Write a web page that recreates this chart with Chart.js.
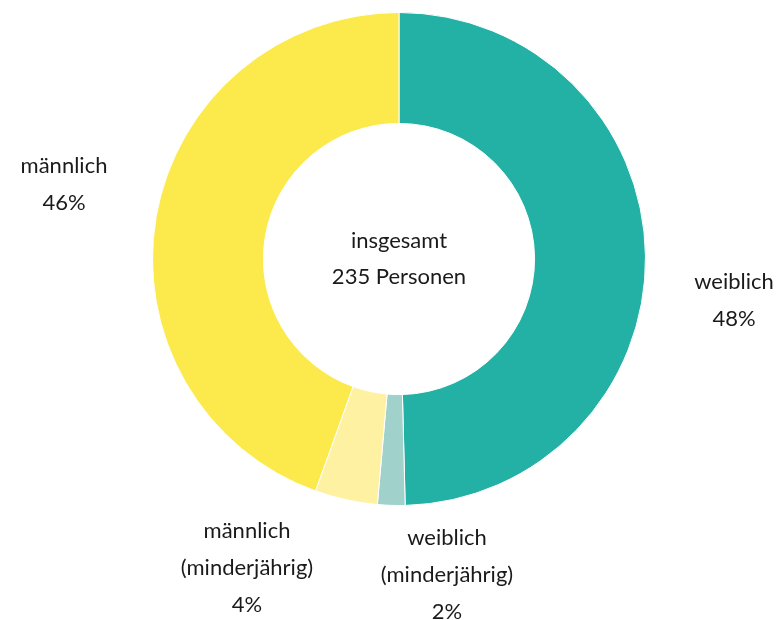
<!DOCTYPE html>
<html>
<head>
<meta charset="utf-8">
<script src="https://cdn.jsdelivr.net/npm/chart.js@4/dist/chart.umd.min.js"></script>
<style>
  html, body { margin: 0; padding: 0; background: #fff; }
  #wrap { width: 780px; height: 620px; }
</style>
</head>
<body>
<div id="wrap"><canvas id="myChart" width="780" height="620"></canvas></div>
<script>
// Geschlecht / Alter, Anteil in % (Winkel aus dem Bild gelesen)
var categories = ["weiblich", "weiblich (minderjährig)", "männlich (minderjährig)", "männlich"];
var shares = [49.6, 1.8, 4.1, 44.5];
var pctLabels = ["48%", "2%", "4%", "46%"];
var labelLines = [["weiblich"], ["weiblich", "(minderjährig)"], ["männlich", "(minderjährig)"], ["männlich"]];
var centerLines = ["insgesamt", "235 Personen"];
var colors = ['#23b0a5', '#a1d1cb', '#fef2a2', '#fcea4c'];

var FONT = "22px Lato, 'Open Sans', sans-serif";

// label block centres relative to the doughnut centre
var labelOffsets = [[335, 41], [48, 316], [-152, 309], [-335, -75]];

var labelPlugin = {
    id: 'sliceLabels',
    afterDraw: function (chart) {
        var ctx = chart.ctx;
        var arc = chart.getDatasetMeta(0).data[0];
        var cx = arc.x, cy = arc.y;
        var lh = 37;
        ctx.save();
        ctx.font = FONT;
        ctx.fillStyle = '#1a1a1a';
        ctx.textAlign = 'center';
        ctx.textBaseline = 'middle';
        for (var i = 0; i < categories.length; i++) {
            var lines = labelLines[i].concat([pctLabels[i]]);
            var x = cx + labelOffsets[i][0];
            var y0 = cy + labelOffsets[i][1] - (lines.length - 1) * lh / 2;
            for (var k = 0; k < lines.length; k++) {
                ctx.fillText(lines[k], x, y0 + k * lh);
            }
        }
        // text in the hole
        ctx.fillText(centerLines[0], cx, cy - 18);
        ctx.fillText(centerLines[1], cx, cy + 18);
        ctx.restore();
    }
};

var ctx = document.getElementById("myChart");
var myChart = new Chart(ctx, {
    type: 'doughnut',
    data: {
        labels: categories,
        datasets: [{
            data: shares,
            backgroundColor: colors,
            borderColor: '#ffffff',
            borderWidth: 1
        }]
    },
    options: {
        animation: false,
        responsive: false,
        cutout: '55%',
        layout: {
            padding: { top: 12, bottom: 114, left: 18, right: 0 }
        },
        plugins: {
            legend: { display: false },
            tooltip: { enabled: false }
        }
    },
    plugins: [labelPlugin]
});
</script>
</body>
</html>
